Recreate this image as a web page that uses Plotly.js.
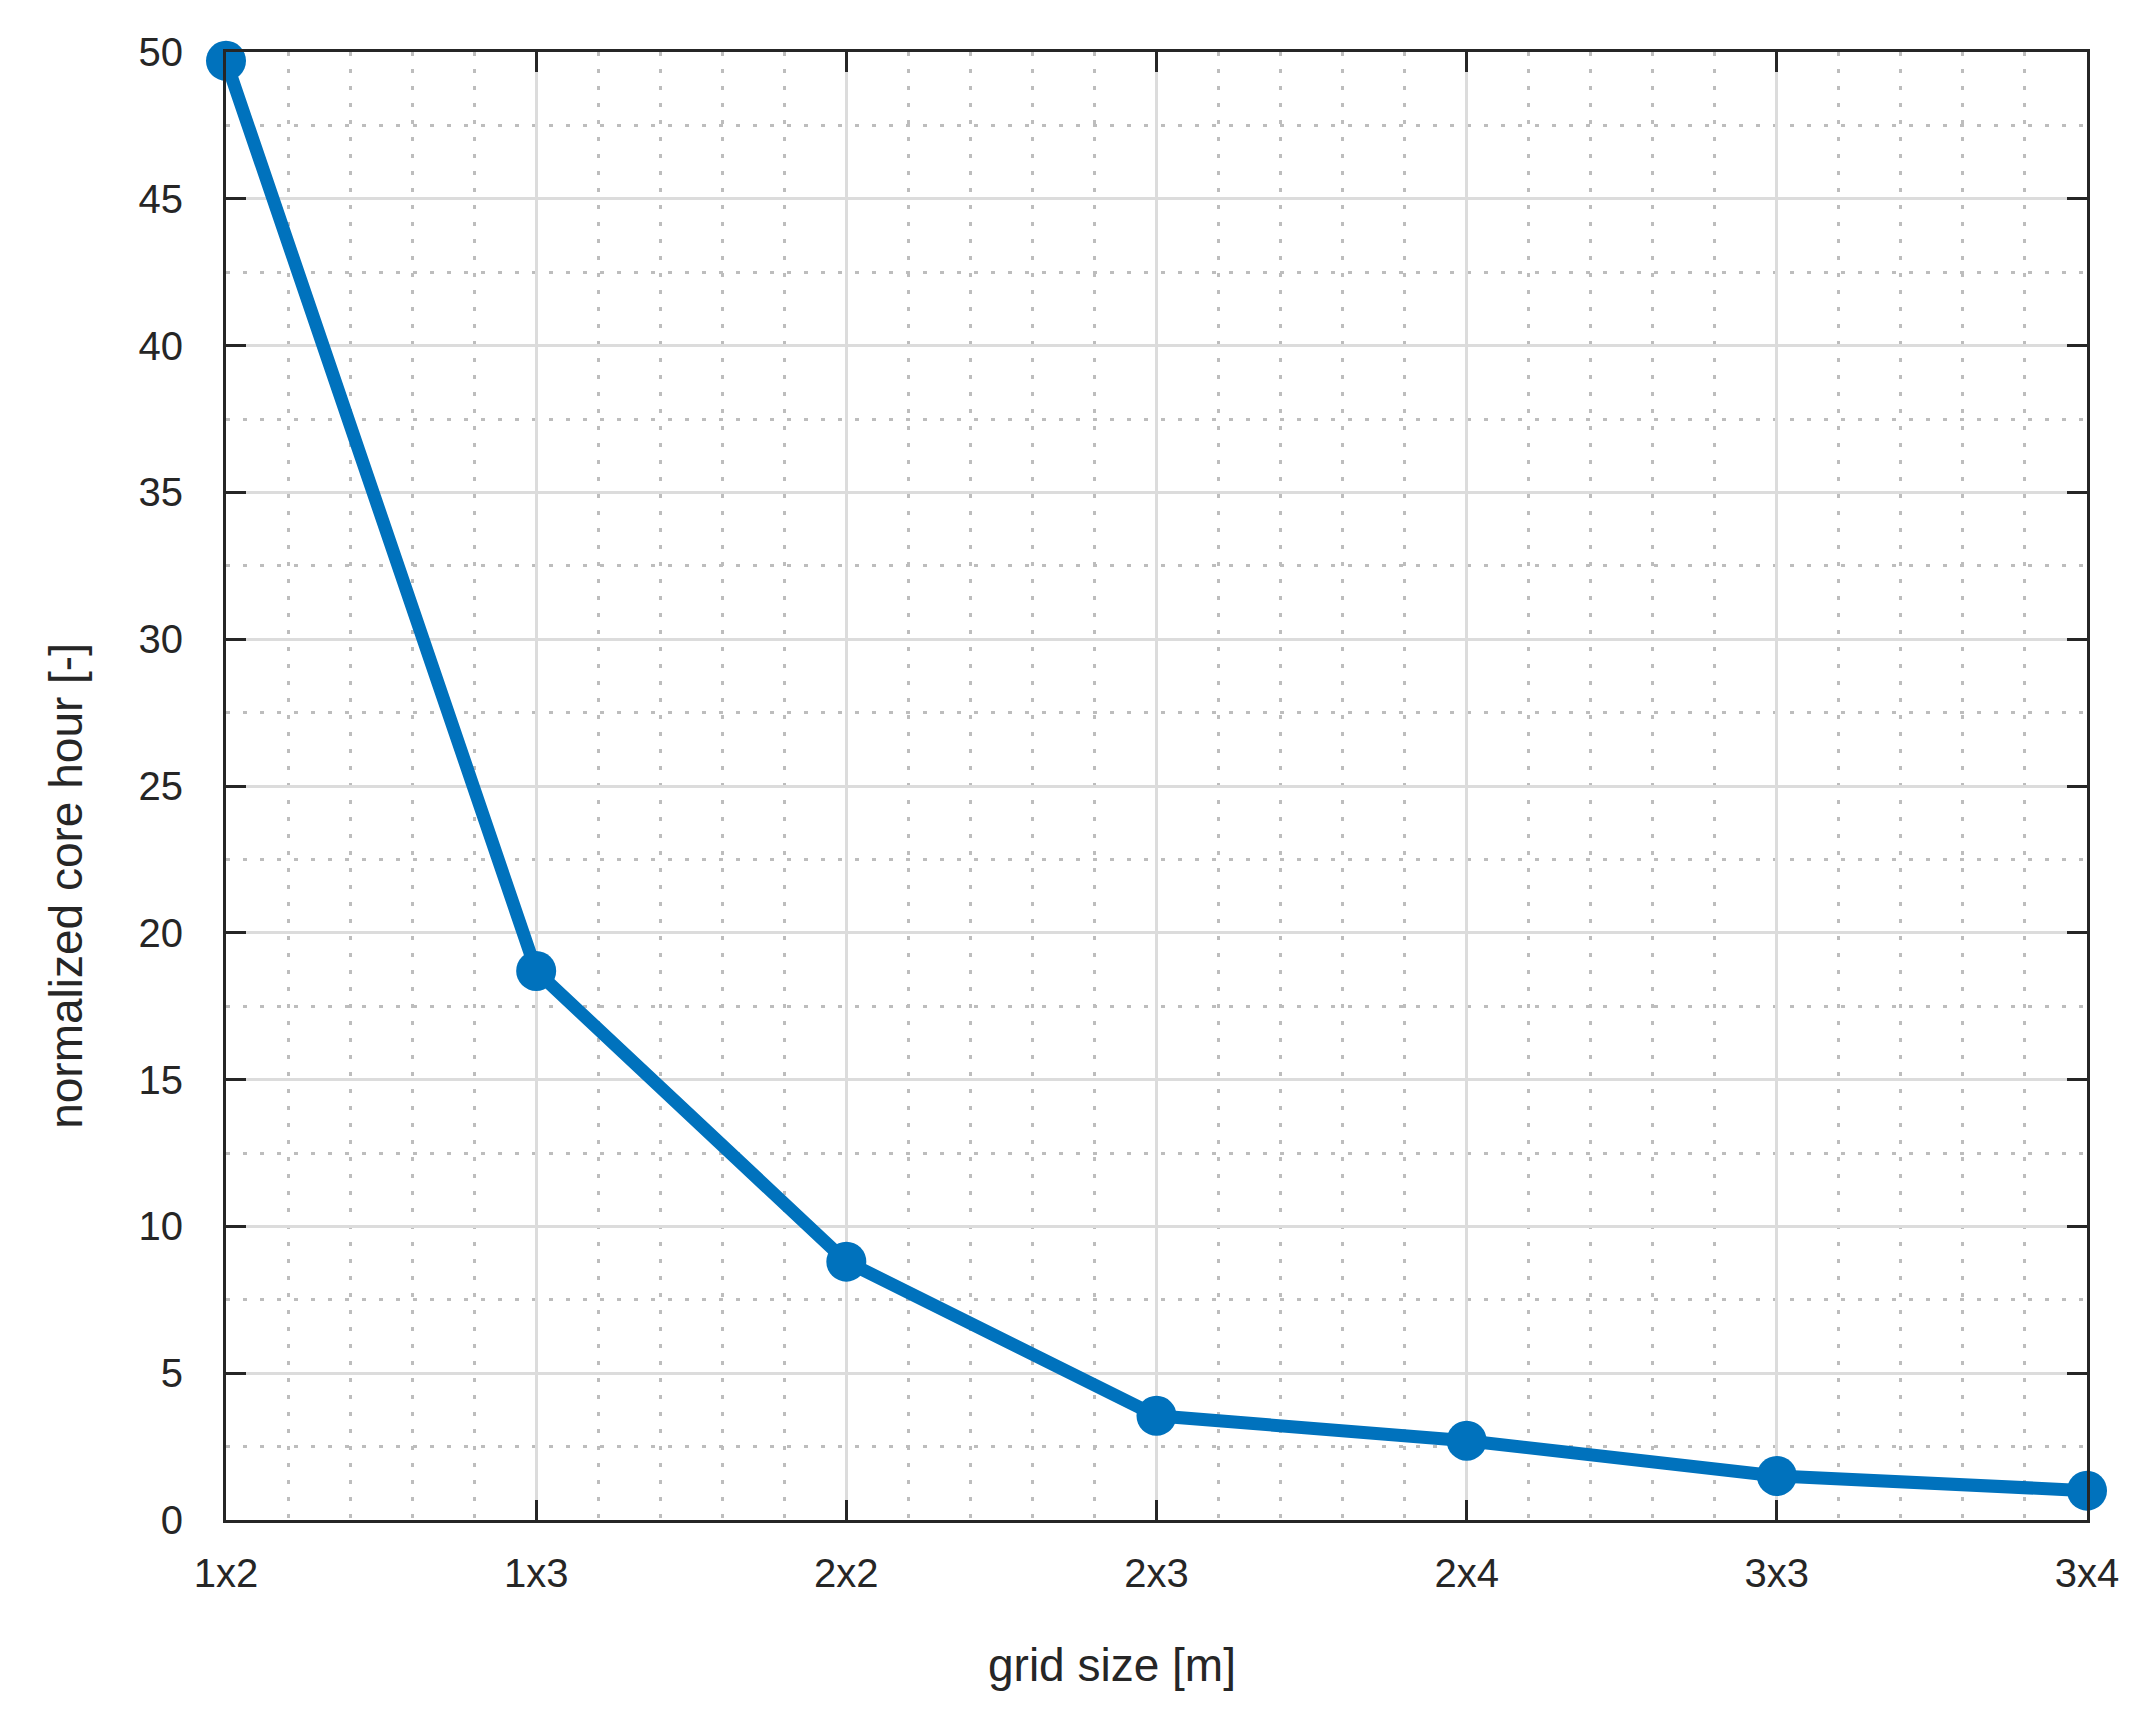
<!DOCTYPE html>
<html>
<head>
<meta charset="utf-8">
<script src="https://cdn.plot.ly/plotly-3.0.1.min.js"></script>
<style>
  html, body { margin: 0; padding: 0; background: #fff; }
  #chart { width: 2138px; height: 1717px; }
</style>
</head>
<body>
<div id="chart"></div>
<script>
// grid sizes on the x axis (categories)
const gridSizes = ["1x2", "1x3", "2x2", "2x3", "2x4", "3x3", "3x4"];
// normalized core hour
const coreHours = [49.7, 18.7, 8.8, 3.55, 2.7, 1.5, 1.0];

const yTickVals = [0, 5, 10, 15, 20, 25, 30, 35, 40, 45, 50];

// categories sit at integer positions on a linear axis so minor grid can be drawn
const xPos = gridSizes.map((g, i) => i);

const blue = "#0072BD";
const ink = "#262626";
const fontFam = "Liberation Sans, Arial, Helvetica, sans-serif";

const trace = {
  x: xPos,
  y: coreHours,
  mode: "lines+markers",
  line: { color: blue, width: 13 },
  marker: { color: blue, size: 40 },
  cliponaxis: false,
  showlegend: false,
  hoverinfo: "x+y"
};

const axisCommon = {
  showline: true,
  linecolor: ink,
  linewidth: 3,
  mirror: "ticks",
  ticks: "inside",
  ticklen: 20,
  tickwidth: 3,
  tickcolor: ink,
  showgrid: true,
  gridcolor: "#dcdcdc",
  gridwidth: 3,
  zeroline: false,
  tickfont: { family: fontFam, size: 40, color: ink }
};

const layout = {
  width: 2138,
  height: 1717,
  margin: { l: 226, r: 51, t: 52, b: 197 },
  paper_bgcolor: "#ffffff",
  plot_bgcolor: "#ffffff",
  font: { family: fontFam, color: ink },
  xaxis: Object.assign({}, axisCommon, {
    range: [0, gridSizes.length - 1],
    tickmode: "array",
    tickvals: xPos,
    ticktext: gridSizes,
    ticklabelstandoff: 16,
    minor: {
      tickmode: "linear",
      tick0: 0,
      dtick: 0.2,
      ticks: "",
      showgrid: true,
      gridcolor: "#bdbdbd",
      gridwidth: 3,
      griddash: "4px,13px"
    }
  }),
  yaxis: Object.assign({}, axisCommon, {
    range: [0, 50],
    tickmode: "array",
    tickvals: yTickVals,
    ticklabelstandoff: 32,
    minor: {
      tickmode: "linear",
      tick0: 0,
      dtick: 2.5,
      ticks: "",
      showgrid: true,
      gridcolor: "#bdbdbd",
      gridwidth: 3,
      griddash: "4px,13px"
    }
  }),
  annotations: [
    {
      text: "grid size [m]",
      xref: "paper", yref: "paper",
      x: 0.476, y: 0,
      yshift: -145,
      showarrow: false,
      xanchor: "center", yanchor: "middle",
      font: { family: fontFam, size: 46, color: ink }
    },
    {
      text: "normalized core hour [-]",
      xref: "paper", yref: "paper",
      x: 0, y: 0.432,
      xshift: -160,
      textangle: -90,
      showarrow: false,
      xanchor: "center", yanchor: "middle",
      font: { family: fontFam, size: 46, color: ink }
    }
  ]
};

Plotly.newPlot("chart", [trace], layout, { displayModeBar: false, staticPlot: true });
</script>
</body>
</html>
